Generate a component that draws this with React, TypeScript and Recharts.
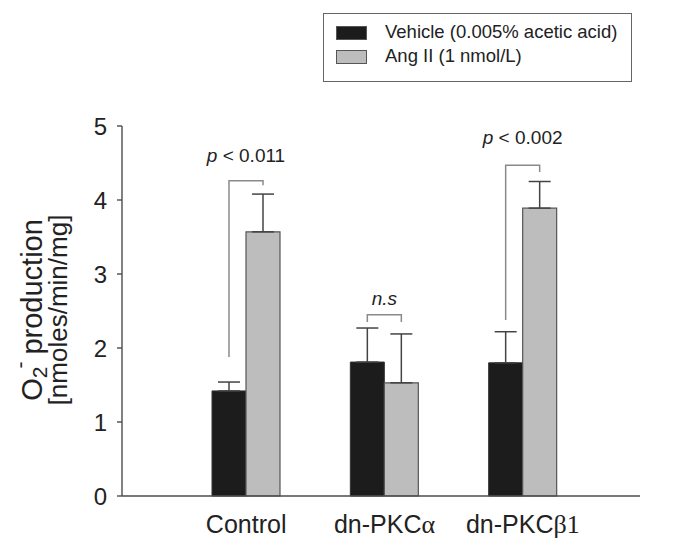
import React from "react";
import { BarChart, Bar, XAxis, YAxis, ErrorBar, Label } from "recharts";

const categories = ["Control", "dn-PKCα", "dn-PKCβ1"];
const vehicle = [1.42, 1.81, 1.8];
const vehicleErr = [0.12, 0.46, 0.42];
const angII = [3.57, 1.53, 3.89];
const angIIErr = [0.51, 0.66, 0.36];
const yTicks = [0, 1, 2, 3, 4, 5];

// significance brackets, in data units
const statText = ["p < 0.011", "n.s", "p < 0.002"];
const statY = [4.52, 2.58, 4.76];
const bracketTop = [4.26, 2.45, 4.47];
const bracketLeftEnd = [1.88, 2.35, 2.38];
const bracketRightEnd = [4.2, 2.35, 4.38];

const FONT = "'Liberation Sans', Arial, sans-serif";
const SERIF = "'Liberation Serif', 'DejaVu Serif', serif";

const data = categories.map((name, i) => ({
  name,
  vehicle: vehicle[i],
  vehicleErr: [0, vehicleErr[i]],
  angII: angII[i],
  angIIErr: [0, angIIErr[i]],
}));

const renderBracket = (props: any) => {
  const x = Number(props.x);
  const y = Number(props.y);
  const w = Number(props.width);
  const h = Number(props.height);
  const i = props.index;
  const base = y + h;
  const k = h / vehicle[i];
  const toY = (v: number) => base - v * k;
  const xl = x + w / 2;
  const xr = x + w * 1.5;
  const top = toY(bracketTop[i]);
  const txt = statText[i];
  const isP = txt.startsWith("p");
  return (
    <g>
      <path
        d={`M${xl},${toY(bracketLeftEnd[i])} L${xl},${top} L${xr},${top} L${xr},${toY(bracketRightEnd[i])}`}
        fill="none"
        stroke="#8a8a8a"
        strokeWidth={1.5}
      />
      <text x={x + w} y={toY(statY[i])} textAnchor="middle" fontSize={19} fontFamily={FONT} fill="#222">
        {isP ? (
          <>
            <tspan fontStyle="italic">p</tspan>
            <tspan>{txt.slice(1)}</tspan>
          </>
        ) : (
          <tspan fontStyle="italic">{txt}</tspan>
        )}
      </text>
    </g>
  );
};

const XTick = (props: any) => {
  const { x, y, payload } = props;
  const label: string = payload.value;
  const chars = [...label];
  const idx = chars.findIndex((c) => c.charCodeAt(0) >= 0x370);
  const head = idx < 0 ? label : chars.slice(0, idx).join("");
  const tail = idx < 0 ? "" : chars.slice(idx).join("");
  return (
    <text x={x} y={Number(y) + 37} textAnchor="middle" fontSize={25} fontFamily={FONT} fill="#222">
      {head}
      {tail && <tspan fontFamily={SERIF} fontSize={26}>{tail}</tspan>}
    </text>
  );
};

const YLabel = () => (
  <g fill="#222" fontFamily={FONT}>
    <text transform="translate(42, 310) rotate(-90)" textAnchor="middle" fontSize={29}>
      O
      <tspan fontSize={21} dy={5}>2</tspan>
      <tspan fontSize={21} dx={-2} dy={-20}>-</tspan>
      <tspan dx={7} dy={15}>production</tspan>
    </text>
    <text transform="translate(67, 310) rotate(-90)" textAnchor="middle" fontSize={26}>
      [nmoles/min/mg]
    </text>
  </g>
);

const legendItems = [
  { label: "Vehicle (0.005% acetic acid)", color: "#1c1c1c" },
  { label: "Ang II (1 nmol/L)", color: "#bdbdbd" },
];

export default function App() {
  return (
    <div style={{ position: "absolute", left: 0, top: 0, width: 677, height: 542, background: "#fff" }}>
      <BarChart
        width={677}
        height={542}
        data={data}
        margin={{ top: 126, right: 37, bottom: 0, left: 0 }}
        barGap={0}
      >
        <XAxis
          dataKey="name"
          height={46}
          padding={{ left: 55, right: 48 }}
          tickLine={false}
          tickSize={0}
          tickMargin={0}
          tick={<XTick />}
          axisLine={{ stroke: "#4d4d4d", strokeWidth: 1.4 }}
          interval={0}
        />
        <YAxis
          width={122}
          domain={[0, 5]}
          ticks={yTicks}
          tickSize={5}
          tickMargin={10}
          tick={{ fontSize: 24, fontFamily: FONT, fill: "#222" }}
          tickLine={{ stroke: "#4d4d4d", strokeWidth: 1.4 }}
          axisLine={{ stroke: "#4d4d4d", strokeWidth: 1.4 }}
        >
          <Label content={<YLabel />} />
        </YAxis>
        <Bar
          dataKey="vehicle"
          fill="#1c1c1c"
          stroke="#333"
          strokeWidth={1}
          barSize={34}
          isAnimationActive={false}
          label={renderBracket}
        >
          <ErrorBar dataKey="vehicleErr" width={11} stroke="#444" strokeWidth={1.5} direction="y" />
        </Bar>
        <Bar
          dataKey="angII"
          fill="#bdbdbd"
          stroke="#555"
          strokeWidth={1.2}
          barSize={34}
          isAnimationActive={false}
        >
          <ErrorBar dataKey="angIIErr" width={11} stroke="#444" strokeWidth={1.5} direction="y" />
        </Bar>
      </BarChart>
      <div
        style={{
          position: "absolute",
          left: 323,
          top: 13,
          width: 307,
          height: 67,
          border: "1px solid #666",
          fontFamily: FONT,
          fontSize: 18.5,
          color: "#222",
        }}
      >
        {legendItems.map((it, i) => (
          <div key={it.label} style={{ position: "absolute", left: 0, top: 8 + i * 24, height: 22, width: "100%" }}>
            <div
              style={{
                position: "absolute",
                left: 12,
                top: 4,
                width: 29,
                height: 12,
                background: it.color,
                border: "1px solid #555",
              }}
            />
            <div style={{ position: "absolute", left: 61, top: -1, whiteSpace: "nowrap", lineHeight: "22px" }}>
              {it.label}
            </div>
          </div>
        ))}
      </div>
    </div>
  );
}
